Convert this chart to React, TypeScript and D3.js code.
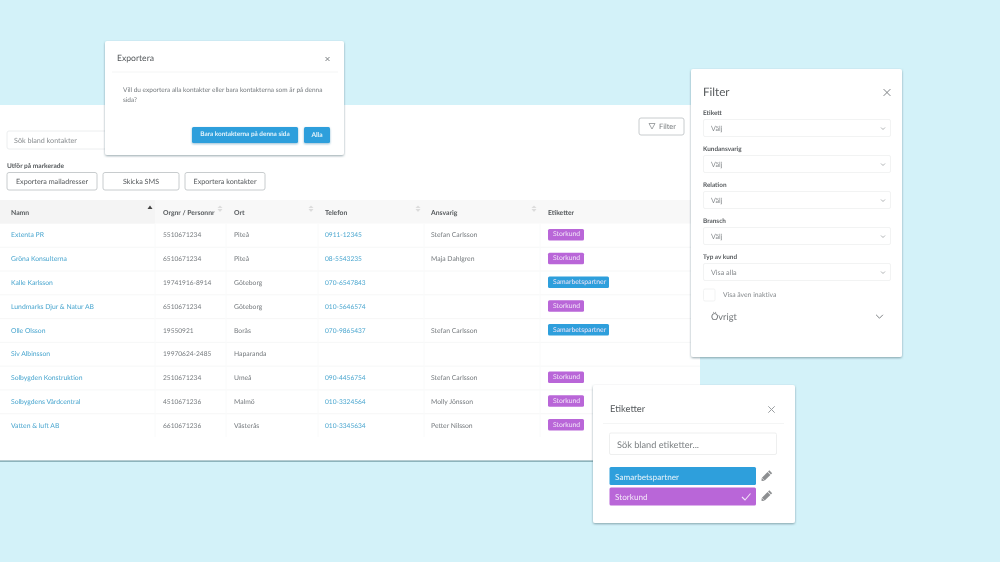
import * as d3 from "d3";

const names = ["Extenta PR", "Gröna Konsulterna", "Kalle Karlsson", "Lundmarks Djur & Natur AB", "Olle Olsson", "Siv Albinsson", "Solbygden Konstruktion", "Solbygdens Vårdcentral", "Vatten & luft AB"];
const orgnr = ["5510671234", "6510671234", "19741916-8914", "6510671234", "19550921", "19970624-2485", "2510671234", "4510671236", "6610671236"];
const orter = ["Piteå", "Piteå", "Göteborg", "Göteborg", "Borås", "Haparanda", "Umeå", "Malmö", "Västerås"];
const telefon = ["0911-12345", "08-5543235", "070-6547843", "010-5646574", "070-9865437", "", "090-4456754", "010-3324564", "010-3345634"];
const ansvarig = ["Stefan Carlsson", "Maja Dahlgren", "", "", "Stefan Carlsson", "", "Stefan Carlsson", "Molly Jönsson", "Petter Nilsson"];
const etiketter = ["Storkund", "Storkund", "Samarbetspartner", "Storkund", "Samarbetspartner", "", "Storkund", "Storkund", "Storkund"];
const columns = ["Namn", "Orgnr / Personnr", "Ort", "Telefon", "Ansvarig", "Etiketter"];
const columnX = [11, 163, 234, 325, 431, 548];
const sortX = [150, 220, 311, 418, 534];
const actions = ["Exportera mailadresser", "Skicka SMS", "Exportera kontakter"];
const actionX = [[7, 97], [103, 179], [185, 265]];
const filterFields = ["Etikett", "Kundansvarig", "Relation", "Bransch", "Typ av kund"];
const filterValues = ["Välj", "Välj", "Välj", "Välj", "Visa alla"];
const filterY = [113, 149, 185, 221, 257];

const FONT = "Lato, 'Open Sans', sans-serif";
const BLUE = "#2f9fdc";
const PURPLE = "#b966d8";
const LINK = "#4aa6cf";
const TEXT = "#757a7e";
const DARK = "#55595c";

const rowY = d3.scaleBand<number>().domain(d3.range(names.length)).range([223.5, 437.5]);
const tagColor = d3.scaleOrdinal<string>().domain(["Storkund", "Samarbetspartner"]).range([PURPLE, BLUE]);
const tagWidth = d3.scaleOrdinal<number>().domain(["Storkund", "Samarbetspartner"]).range([36, 61]);

function Panel({ x, y, w, h }: { x: number; y: number; w: number; h: number }) {
  return <rect x={x} y={y} width={w} height={h} rx={2} fill="#fff" filter="url(#panelShadow)" />;
}

function Label({ x, y, size = 6.8, fill = TEXT, weight = 400, anchor = "start", children }: any) {
  return (
    <text x={x} y={y} fontSize={size} fill={fill} fontWeight={weight} textAnchor={anchor} dominantBaseline="central">
      {children}
    </text>
  );
}

function Button({ x0, x1, y, h, label, size = 7.2 }: any) {
  return (
    <g>
      <rect x={x0} y={y} width={x1 - x0} height={h} rx={2} fill="#fff" stroke="#c8ccce" strokeWidth={1} />
      <Label x={(x0 + x1) / 2} y={y + h / 2} size={size} anchor="middle" fill={DARK}>{label}</Label>
    </g>
  );
}

function Cross({ cx, cy, r, color = "#7d8184", width = 1 }: any) {
  const d = d3.path();
  d.moveTo(cx - r, cy - r);
  d.lineTo(cx + r, cy + r);
  d.moveTo(cx + r, cy - r);
  d.lineTo(cx - r, cy + r);
  return <path d={d.toString()} stroke={color} strokeWidth={width} fill="none" />;
}

function Chevron({ cx, cy, r, color = "#9a9ea1", width = 0.8 }: any) {
  const line = d3.line();
  return <path d={line([[cx - r, cy - r / 2], [cx, cy + r / 2], [cx + r, cy - r / 2]]) || ""} stroke={color} strokeWidth={width} fill="none" />;
}

function Pencil({ cx, cy }: { cx: number; cy: number }) {
  return (
    <g transform={`translate(${cx},${cy}) rotate(45)`} fill="#8d8f91">
      <rect x={-2} y={-3.5} width={4} height={8} />
      <rect x={-2} y={-6} width={4} height={1.8} />
      <path d="M-2,4.8 L2,4.8 L0,7 Z" />
    </g>
  );
}

export default function App() {
  return (
    <svg width={1000} height={562} viewBox="0 0 1000 562" fontFamily={FONT} textRendering="geometricPrecision" style={{ position: "fixed", left: 0, top: 0 }}>
      <defs>
        <filter id="panelShadow" x="-5%" y="-5%" width="110%" height="110%">
          <feDropShadow dx={0} dy={1} stdDeviation={1} floodColor="#40606a" floodOpacity={0.55} />
        </filter>
        <filter id="btnShadow" x="-10%" y="-20%" width="120%" height="150%">
          <feDropShadow dx={0} dy={1} stdDeviation={1.2} floodColor="#1c6f9c" floodOpacity={0.45} />
        </filter>
        <filter id="soft" x="0" y="0" width="100%" height="100%">
          <feGaussianBlur stdDeviation={0.3} />
        </filter>
      </defs>
      <g filter="url(#soft)">
      <rect width={1000} height={562} fill="#d3f2f9" />

      {/* main table panel */}
      <rect x={0} y={105} width={700} height={356} fill="#fff" />
      <rect x={0} y={460.5} width={700} height={1.2} fill="#6f9aa3" />

      <rect x={7} y={131} width={110} height={18} rx={2} fill="#fff" stroke="#eceeef" />
      <Label x={14} y={140} size={7.2} fill="#8b8f92">Sök bland kontakter</Label>

      <Button x0={639} x1={684} y={118} h={17} label="" />
      <path d="M649,123.5 L655,123.5 L652,129 Z" fill="none" stroke="#7d8184" strokeWidth={0.7} />
      <Label x={659} y={126.5} size={7.4} fill="#74787b">Filter</Label>

      <Label x={7} y={166} size={6.6} fill={DARK} weight={700}>Utför på markerade</Label>
      {actions.map((a, i) => (
        <Button key={a} x0={actionX[i][0]} x1={actionX[i][1]} y={172.5} h={17.5} label={a} />
      ))}

      {/* header */}
      <rect x={0} y={200} width={700} height={23.5} fill="#f8f8f8" />
      <rect x={0} y={200} width={155} height={23.5} fill="#f4f4f4" />
      {columns.map((c, i) => (
        <Label key={c} x={columnX[i]} y={212.5} size={6.8} fill={DARK} weight={700}>{c}</Label>
      ))}
      {sortX.map((x, i) => (
        <g key={x} fill={i === 0 ? "#444" : "#dcdcdc"}>
          <path d={`M${x - 2.5},${i === 0 ? 209 : 208} L${x},205.5 L${x + 2.5},${i === 0 ? 209 : 208} Z`} />
          {i > 0 && <path d={`M${x - 2.5},209 L${x},212 L${x + 2.5},209 Z`} />}
        </g>
      ))}

      {/* rows */}
      {names.map((n, i) => {
        const y = rowY(i)!;
        const cy = y + rowY.bandwidth() / 2;
        return (
          <g key={n}>
            {i > 0 && <line x1={0} x2={700} y1={y} y2={y} stroke="#f6f7f7" />}
            <Label x={columnX[0]} y={cy} fill={LINK}>{n}</Label>
            <Label x={columnX[1]} y={cy} size={6.6}>{orgnr[i]}</Label>
            <Label x={columnX[2]} y={cy}>{orter[i]}</Label>
            <Label x={columnX[3]} y={cy} size={6.6} fill={LINK}>{telefon[i]}</Label>
            <Label x={columnX[4]} y={cy}>{ansvarig[i]}</Label>
            {etiketter[i] && (
              <g>
                <rect x={548} y={cy - 6.5} width={tagWidth(etiketter[i])} height={11.5} rx={1.5} fill={tagColor(etiketter[i])} />
                <Label x={553} y={cy - 1} size={6.8} fill="#f1e4f7">{etiketter[i]}</Label>
              </g>
            )}
          </g>
        );
      })}
      {[155, 226, 318, 424, 540].map((x) => (
        <line key={x} x1={x} x2={x} y1={223.5} y2={437} stroke="#f9fafa" />
      ))}

      {/* export dialog */}
      <Panel x={105} y={41} w={239} h={114} />
      <line x1={112} x2={338} y1={72} y2={72} stroke="#f4f5f5" />
      <Label x={117} y={58} size={8.6} fill={DARK}>Exportera</Label>
      <Cross cx={327.5} cy={59} r={2} />
      <Label x={123} y={90.5} size={6.5}>Vill du exportera alla kontakter eller bara kontakterna som är på denna</Label>
      <Label x={123} y={100.5} size={6.5}>sida?</Label>
      <rect x={192} y={127} width={106} height={16} rx={1.5} fill={BLUE} filter="url(#btnShadow)" />
      <Label x={245} y={134.5} size={6.4} fill="#e6f4fb" anchor="middle" weight={700}>Bara kontakterna på denna sida</Label>
      <rect x={304} y={127} width={26} height={16} rx={1.5} fill={BLUE} filter="url(#btnShadow)" />
      <Label x={317} y={134.5} size={6.6} fill="#e6f4fb" anchor="middle" weight={700}>Alla</Label>

      {/* filter panel */}
      <Panel x={691} y={69} w={211} h={288} />
      <Label x={703} y={92} size={11.6} fill={DARK}>Filter</Label>
      <Cross cx={887} cy={92.5} r={3.4} width={1} />
      {filterFields.map((f, i) => (
        <g key={f}>
          <Label x={703} y={filterY[i]} size={6.4} fill={DARK} weight={700}>{f}</Label>
          <rect x={703.5} y={filterY[i] + 6.5} width={187} height={17} rx={1.5} fill="#fff" stroke="#f2f3f3" />
          <Label x={711} y={filterY[i] + 15} size={7.2} fill="#85898c">{filterValues[i]}</Label>
          <Chevron cx={883} cy={filterY[i] + 15.5} r={2} />
        </g>
      ))}
      <rect x={703.5} y={289} width={11.5} height={12} rx={1.5} fill="#fff" stroke="#f2f3f3" />
      <Label x={723} y={294.5} size={6.8} fill="#85898c">Visa även inaktiva</Label>
      <Label x={711} y={316} size={9.2} fill="#6f7376">Övrigt</Label>
      <Chevron cx={879.5} cy={316.5} r={3.4} color="#7d8184" width={1} />

      {/* tag panel */}
      <Panel x={593} y={385} w={202} h={138} />
      <line x1={603} x2={784} y1={423.5} y2={423.5} stroke="#f4f5f5" />
      <Label x={610} y={409.5} size={9.4} fill={DARK}>Etiketter</Label>
      <Cross cx={771.5} cy={409.5} r={3.2} color="#9a9ea1" width={1} />
      <rect x={609.5} y={433} width={167} height={21.5} rx={1.5} fill="#fff" stroke="#eeefef" />
      <Label x={617} y={444} size={9.2} fill="#7c8083">Sök bland etiketter...</Label>
      <rect x={609.5} y={467} width={146.5} height={18} rx={1.5} fill={BLUE} />
      <Label x={615} y={476.5} size={8.2} fill="#e6f4fb">Samarbetspartner</Label>
      <rect x={609.5} y={487.5} width={146.5} height={18} rx={1.5} fill={PURPLE} />
      <Label x={615} y={497} size={8.2} fill="#f4e8f9">Storkund</Label>
      <path d="M742,497 L745,500 L750.5,493.5" fill="none" stroke="#f1e4f7" strokeWidth={1.1} />
      <Pencil cx={766.5} cy={476} />
      <Pencil cx={766.5} cy={496} />
      </g>
    </svg>
  );
}
